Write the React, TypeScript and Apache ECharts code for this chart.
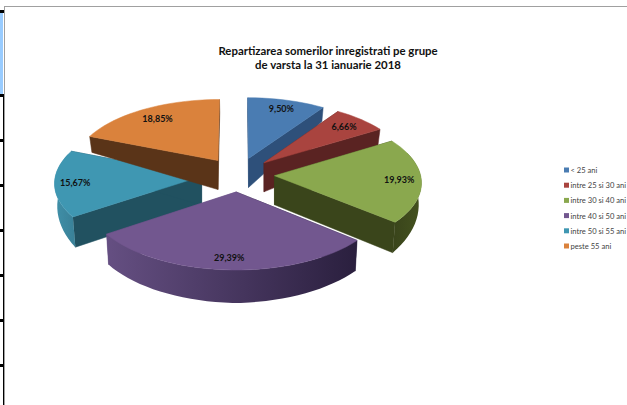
import React, { useEffect, useRef } from "react";
import * as echarts from "echarts";

const categories = ["< 25 ani", "intre 25 si 30 ani", "intre 30 si 40 ani", "intre 40 si 50 ani", "intre 50 si 55 ani", "peste 55 ani"];
const percentages = [9.5, 6.66, 19.93, 29.39, 15.67, 18.85];
const percentLabels = ["9,50%", "6,66%", "19,93%", "29,39%", "15,67%", "18,85%"];
const titleLines = "Repartizarea somerilor inregistrati pe grupe\nde varsta la 31 ianuarie 2018";

const topColors = ["#4a7cb2", "#a9443f", "#8aa84e", "#72578f", "#3f97b2", "#da823c"];
const wallColors = ["#2e507a", "#5a2322", "#3a451b", "#2b2040", "#215160", "#5a3418"];
const rimLeft = ["#2e507a", "#5a2322", "#3a451b", "#654f82", "#4090a9", "#5a3418"];
const rimRight = ["#2e507a", "#5a2322", "#44521f", "#2a1f3e", "#3a8299", "#5a3418"];
const labelRadius = [0.85, 0.82, 0.85, 0.85, 0.86, 0.81];
const paintOrder = [1, 2, 4, 5, 3, 6];

const CX = 238, CY = 174.5, A = 146, B = 68.4, P = 0.084, EXPLODE = 0.25, APEX_DEPTH = 29, BASE_SHRINK = 0.985;
const RIM_DEPTH: [number, number][] = [[0, 13], [34, 14], [90, 20], [130, 30.5], [180, 33], [235, 30.5], [270, 21], [292, 16], [360, 13]];

function project(X: number, Y: number): [number, number] {
  const s = 1 / (1 - P * Y);
  return [CX + A * X * s, CY + B * Y * s];
}
function rimDepth(deg: number) {
  for (let i = 1; i < RIM_DEPTH.length; i++) {
    if (deg <= RIM_DEPTH[i][0]) {
      const [d0, t0] = RIM_DEPTH[i - 1];
      const [d1, t1] = RIM_DEPTH[i];
      return t0 + ((deg - d0) / (d1 - d0)) * (t1 - t0);
    }
  }
  return 13;
}
function down(p: [number, number], depth: number): [number, number] {
  return [CX + (p[0] - CX) * BASE_SHRINK, p[1] + depth];
}

const total = percentages.reduce((a, b) => a + b, 0);

function sliceRenderer(index: number) {
  return () => {
    const before = percentages.slice(0, index).reduce((a, b) => a + b, 0);
    const a0 = (before / total) * 360;
    const a1 = ((before + percentages[index]) / total) * 360;
    const mid = ((a0 + a1) / 2) * (Math.PI / 180);
    const ox = EXPLODE * Math.sin(mid);
    const oy = -EXPLODE * Math.cos(mid);
    const ground = (deg: number, r: number): [number, number] => {
      const t = (deg * Math.PI) / 180;
      return project(ox + r * Math.sin(t), oy - r * Math.cos(t));
    };
    const apex = project(ox, oy);
    const apexDown: [number, number] = [apex[0], apex[1] + APEX_DEPTH];
    const steps = Math.max(6, Math.round((a1 - a0) / 3));
    const arc: [number, number][] = [];
    const front: [number, number][] = [];
    const frontDown: [number, number][] = [];
    for (let i = 0; i <= steps; i++) {
      const d = a0 + ((a1 - a0) * i) / steps;
      const p = ground(d, 1);
      arc.push(p);
      if (Math.cos((d * Math.PI) / 180) < 0.35) {
        front.push(p);
        frontDown.push(down(p, rimDepth(d)));
      }
    }
    const children: any[] = [];
    const poly = (points: [number, number][], fill: any) =>
      children.push({ type: "polygon", shape: { points }, style: { fill, stroke: typeof fill === "string" ? fill : undefined, lineWidth: 0.5 } });
    const first = arc[0];
    const last = arc[arc.length - 1];
    poly([apex, first, down(first, rimDepth(a0)), apexDown], wallColors[index]);
    poly([apex, last, down(last, rimDepth(a1)), apexDown], index === 3 ? rimLeft[3] : wallColors[index]);
    if (front.length > 1) {
      const xs = front.map((p) => p[0]);
      const fill = new echarts.graphic.LinearGradient(Math.min(...xs), 0, Math.max(...xs), 0, [
        { offset: 0, color: rimLeft[index] },
        { offset: 1, color: rimRight[index] },
      ], true);
      poly([...front, ...frontDown.reverse()], fill);
    }
    poly([apex, ...arc], topColors[index]);
    const lp = ground((a0 + a1) / 2, labelRadius[index]);
    children.push({
      type: "text",
      style: {
        x: lp[0], y: lp[1], text: percentLabels[index], align: "center", verticalAlign: "middle",
        fill: "#111", font: "bold 9px Lato",
      },
    });
    return { type: "group", children };
  };
}

const gridTicks = [95, 140, 185, 230, 275, 320, 365];

export default function App() {
  const ref = useRef<HTMLDivElement>(null);
  useEffect(() => {
    const chart = echarts.init(ref.current!, undefined, { renderer: "svg" });
    const frame: any[] = [
      { type: "rect", shape: { x: 0, y: 12, width: 3, height: 83 }, style: { fill: "#99ccff" } },
      { type: "rect", shape: { x: 0, y: 10, width: 4, height: 3 }, style: { fill: "#000" } },
      { type: "rect", shape: { x: 3, y: 95, width: 1, height: 310 }, style: { fill: "#000" } },
      ...gridTicks.map((y) => ({ type: "rect", shape: { x: 0, y: y - 1, width: 4, height: 3 }, style: { fill: "#000" } })),
      { type: "rect", shape: { x: 4, y: 6, width: 623, height: 1 }, style: { fill: "#a0a0a0" } },
      { type: "rect", shape: { x: 4, y: 6, width: 1, height: 399 }, style: { fill: "#a0a0a0" } },
    ];
    const legendRows: any[] = categories.flatMap((name, i) => {
      const y = 170 + i * 15.2;
      return [
        { type: "rect", shape: { x: 564, y: y - 2.5, width: 5, height: 5 }, style: { fill: topColors[i] } },
        { type: "text", style: { x: 570.5, y, text: name, fill: "#444", font: "7.6px Lato", align: "left", verticalAlign: "middle" } },
      ];
    });
    chart.setOption({
      animation: false,
      backgroundColor: "#fff",
      title: {
        text: titleLines, left: 323, top: 38, textAlign: "center",
        textStyle: { fontFamily: "Lato", fontWeight: "bold", fontSize: 11.4, lineHeight: 14.5, color: "#111" },
      },
      graphic: [...frame, ...legendRows],
      series: categories.map((name, i) => ({
        type: "custom", name, coordinateSystem: "none", z: paintOrder[i] + 2,
        itemStyle: { color: topColors[i] },
        data: [[percentages[i]]],
        renderItem: sliceRenderer(i),
      })),
    });
    return () => chart.dispose();
  }, []);
  return <div ref={ref} style={{ position: "fixed", left: 0, top: 0, width: 627, height: 405 }} />;
}
